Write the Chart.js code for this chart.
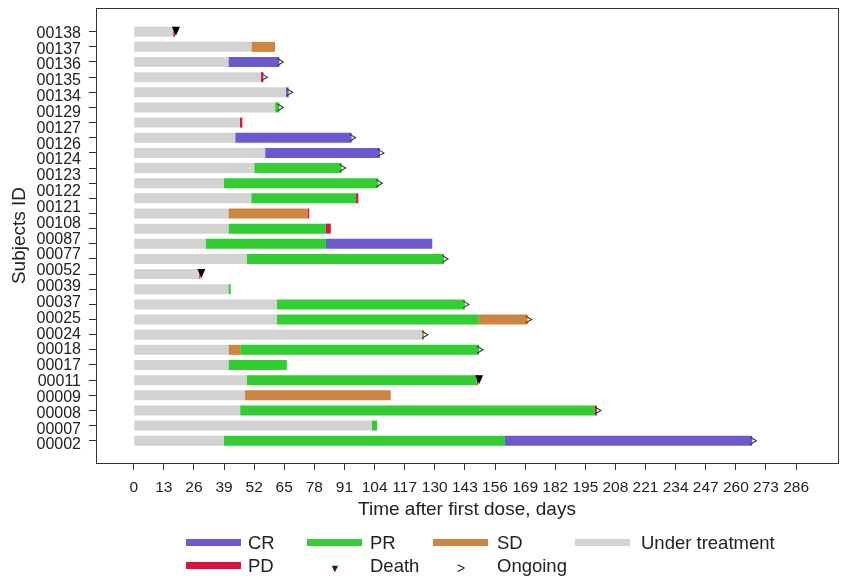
<!DOCTYPE html>
<html>
<head>
<meta charset="utf-8">
<script src="https://cdn.jsdelivr.net/npm/chart.js@4"></script>
<style>
  body { margin: 0; background: #fff; }
  #wrap { position: relative; width: 848px; height: 579px; font-family: "Liberation Sans", Arial, sans-serif; color: #222; }
  .sw { position: absolute; height: 7px; width: 55px; }
  .lt { position: absolute; font-size: 18.5px; line-height: 1; transform: translateY(-50%); white-space: nowrap; }
</style>
</head>
<body>
<div id="wrap">
  <canvas id="grafico" width="848" height="579"></canvas>
  <div id="leyenda"></div>
</div>
<script>
// subject IDs as printed on the y axis (27 labels)
const subjects = ["00138", "00137", "00136", "00135", "00134", "00129", "00127", "00126", "00124",
  "00123", "00122", "00121", "00108", "00087", "00077", "00052", "00039", "00037", "00025",
  "00024", "00018", "00017", "00011", "00009", "00008", "00007", "00002"];

// x axis tick labels (days)
const dayTicks = [0, 13, 26, 39, 52, 65, 78, 91, 104, 117, 130, 143, 156, 169, 182, 195, 208, 221, 234, 247, 260, 273, 286];

// one entry per drawn bar (28 rows, top to bottom)
const underTreatment = [17.1, 50.9, 41.0, 55.0, 65.8, 61.1, 45.9, 43.9, 56.8, 52.1, 39.0, 50.8, 41.0, 41.0,
  31.1, 48.9, 28.3, 41.0, 61.9, 61.9, 124.5, 41.0, 41.0, 48.9, 48.1, 46.0, 102.9, 39.0];

const crSeg = [null, null, [41.0, 62.9], null, [65.8, 66.9], null, null, [43.9, 94.1], [56.8, 106.3], null,
  null, null, null, null, [83.0, 128.9], null, null, null, null, null, null, null, null, null, null, null, null,
  [160.3, 267.1]];

const prSeg = [null, null, null, null, null, [61.1, 62.9], null, null, null, [52.1, 89.8],
  [39.0, 105.6], [50.8, 96.0], null, [41.0, 83.0], [31.1, 83.0], [48.9, 134.0], null, [41.0, 41.9],
  [61.9, 143.0], [61.9, 149.0], null, [46.0, 149.1], [41.0, 66.1], [48.9, 148.1], null, [46.0, 199.2],
  [102.9, 105.1], [39.0, 160.3]];

const sdSeg = [null, [50.9, 61.0], null, null, null, null, null, null, null, null, null, null, [41.0, 75.0],
  null, null, null, null, null, null, [149.0, 170.1], [124.5, 125.3], [41.0, 46.0], null, null, [48.1, 111.0],
  null, null, null];

const pdSeg = [[17.1, 17.8], null, null, [55.0, 56.0], null, null, [45.9, 46.9], null, null, null, null,
  [96.0, 97.0], [75.0, 75.8], [83.0, 85.1], null, null, [28.3, 28.8], null, null, null, null, null, null,
  [148.1, 148.7], null, [199.2, 200.0], null, null];

const deathDay = [17.8, null, null, null, null, null, null, null, null, null, null, null, null, null, null,
  null, 28.8, null, null, null, null, null, null, 148.7, null, null, null, null];

const ongoingDay = [null, null, 62.9, 56.0, 66.9, 62.9, null, 94.1, 106.3, 89.8, 105.6, null, null, null,
  null, 134.0, null, null, 143.0, 170.1, 125.3, 149.1, null, null, null, 200.0, null, 267.1];

const colores = { CR: "#6A5ACD", PR: "#32CD32", SD: "#CD853F", UT: "#D3D3D3", PD: "#DC143C" };

Chart.defaults.font.family = '"Liberation Sans", Arial, sans-serif';
Chart.defaults.color = "#222";

function seg(arr) {
  return arr.map((s, i) => s ? { x: s, y: i } : null).filter(d => d);
}

function barSet(label, data, color) {
  return {
    label, data, backgroundColor: color, borderWidth: 0, grouped: false,
    xAxisID: "x", yAxisID: "y", categoryPercentage: 1, barPercentage: 0.66
  };
}

const marcas = {
  id: "marcas",
  beforeDatasetsDraw(chart) {
    const { ctx, chartArea: a } = chart;
    ctx.save();
    ctx.strokeStyle = "#333";
    ctx.lineWidth = 1;
    ctx.strokeRect(Math.round(a.left) + 0.5, Math.round(a.top) + 0.5, Math.round(a.right - a.left), Math.round(a.bottom - a.top));
    ctx.restore();
  },
  afterDatasetsDraw(chart) {
    const { ctx, scales: { x, y } } = chart;
    ctx.save();
    ongoingDay.forEach((d, i) => {
      if (d == null) return;
      const px = x.getPixelForValue(d), py = y.getPixelForValue(i);
      ctx.strokeStyle = "#333";
      ctx.lineWidth = 1.1;
      ctx.beginPath();
      ctx.moveTo(px - 2, py - 3.5);
      ctx.lineTo(px + 4, py);
      ctx.lineTo(px - 2, py + 3.5);
      ctx.stroke();
    });
    deathDay.forEach((d, i) => {
      if (d == null) return;
      const px = x.getPixelForValue(d) + 1, py = y.getPixelForValue(i);
      ctx.fillStyle = "#000";
      ctx.beginPath();
      ctx.moveTo(px - 4, py - 5);
      ctx.lineTo(px + 4, py - 5);
      ctx.lineTo(px, py + 4);
      ctx.closePath();
      ctx.fill();
    });
    ctx.restore();
  }
};

const ctx = document.getElementById("grafico").getContext("2d");
new Chart(ctx, {
  type: "bar",
  data: {
    datasets: [
      barSet("CR", seg(crSeg), colores.CR),
      barSet("PR", seg(prSeg), colores.PR),
      barSet("SD", seg(sdSeg), colores.SD),
      barSet("PD", seg(pdSeg), colores.PD),
      barSet("Under treatment", seg(underTreatment.map(v => [0, v])), colores.UT)
    ]
  },
  options: {
    indexAxis: "y",
    responsive: false,
    animation: false,
    layout: { padding: { top: 8, right: 10, bottom: 58, left: 0 } },
    plugins: { legend: { display: false }, tooltip: { enabled: false } },
    scales: {
      x: {
        type: "linear",
        min: -16.28,
        max: 304.1,
        afterBuildTicks: s => { s.ticks = dayTicks.map(v => ({ value: v })); },
        afterFit: s => { s.height = 58; },
        grid: { drawOnChartArea: false, tickLength: 7, color: "#333" },
        border: { display: false },
        ticks: { autoSkip: false, maxRotation: 0, padding: 8, font: { size: 15.5 }, color: "#222" },
        title: { display: true, text: "Time after first dose, days", font: { size: 19 }, color: "#222", padding: { top: 0, bottom: 0 } }
      },
      y: {
        type: "linear",
        position: "left",
        reverse: true,
        offset: false,
        weight: 0,
        min: -1.564,
        max: 28.47,
        afterBuildTicks: s => { s.ticks = underTreatment.map((v, i) => ({ value: i })); },
        afterFit: s => { s.width = 7; s.paddingTop = 0; s.paddingBottom = 0; },
        ticks: { display: false },
        grid: { drawOnChartArea: false, offset: false, tickLength: 7, color: "#333" },
        border: { display: false }
      },
      yLab: {
        type: "linear",
        position: "left",
        reverse: true,
        offset: false,
        weight: 1,
        min: -1.598,
        max: 27.137,
        afterBuildTicks: s => { s.ticks = subjects.map((v, i) => ({ value: i })); },
        afterFit: s => { s.width = 89; s.paddingTop = 0; s.paddingBottom = 0; },
        ticks: { callback: v => subjects[v], padding: 8, font: { size: 16 }, color: "#222", autoSkip: false },
        grid: { display: false, drawTicks: false, offset: false },
        border: { display: false },
        title: { display: true, text: "Subjects ID", font: { size: 19 }, color: "#222", padding: { top: 8.6, bottom: 0 } }
      }
    }
  },
  plugins: [marcas]
});

// legend below the plot
const items = [
  { sw: colores.CR, text: "CR", sx: 186, tx: 248, y: 543 },
  { sw: colores.PR, text: "PR", sx: 307, tx: 370, y: 543 },
  { sw: colores.SD, text: "SD", sx: 433, tx: 497, y: 543 },
  { sw: colores.UT, text: "Under treatment", sx: 575, tx: 641, y: 543 },
  { sw: colores.PD, text: "PD", sx: 186, tx: 248, y: 566 },
  { sym: "▼", text: "Death", sx: 335, tx: 370, y: 566, size: 11 },
  { sym: ">", text: "Ongoing", sx: 461, tx: 497, y: 566, size: 14 }
];
const ley = document.getElementById("leyenda");
items.forEach(it => {
  if (it.sw) {
    const s = document.createElement("div");
    s.className = "sw";
    s.style.left = it.sx + "px";
    s.style.top = (it.y - 4) + "px";
    s.style.background = it.sw;
    ley.appendChild(s);
  } else {
    const s = document.createElement("div");
    s.className = "lt";
    s.textContent = it.sym;
    s.style.fontSize = it.size + "px";
    s.style.left = it.sx + "px";
    s.style.top = (it.y + 2) + "px";
    s.style.transform = "translate(-50%, -50%)";
    ley.appendChild(s);
  }
  const t = document.createElement("div");
  t.className = "lt";
  t.textContent = it.text;
  t.style.left = it.tx + "px";
  t.style.top = it.y + "px";
  ley.appendChild(t);
});
</script>
</body>
</html>
